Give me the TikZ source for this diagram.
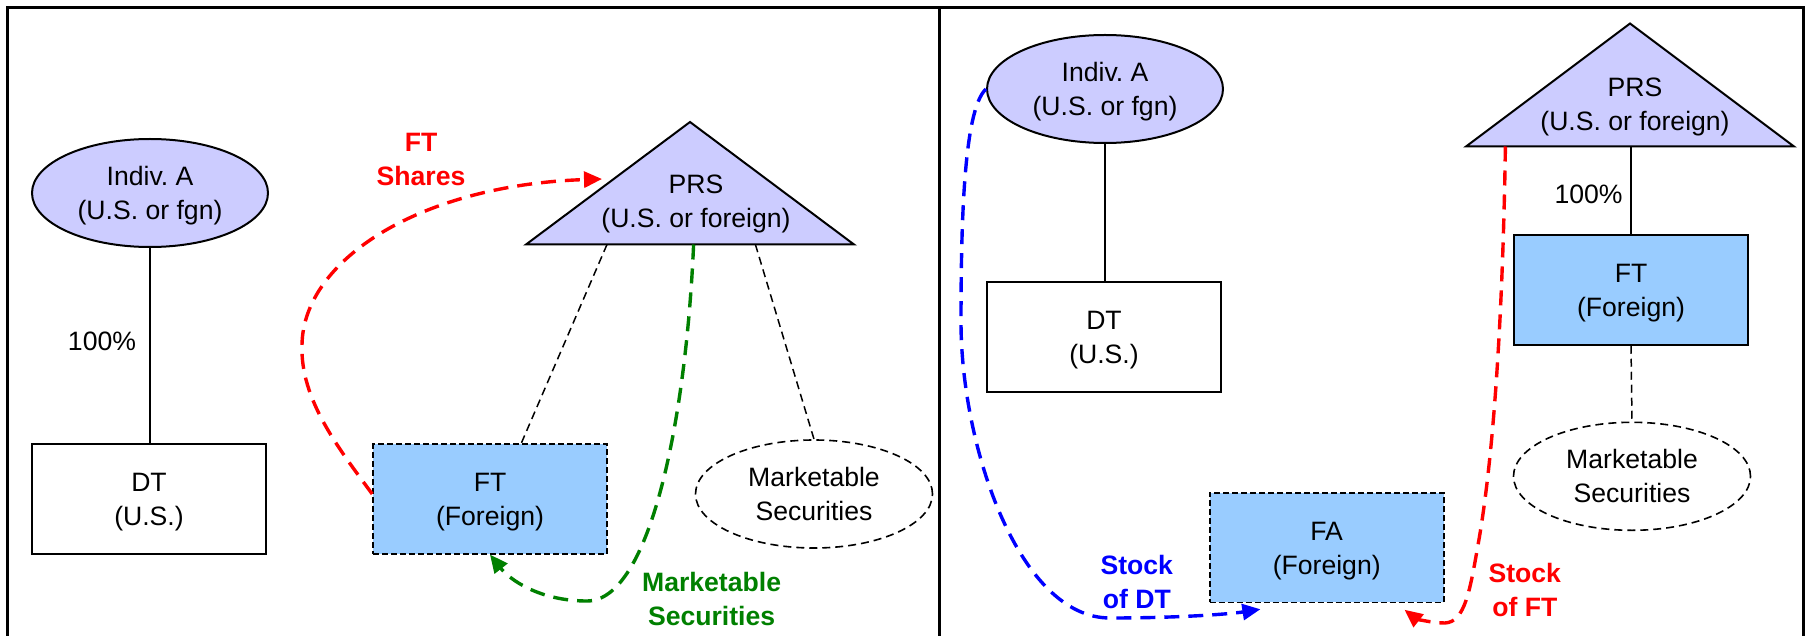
\documentclass[tikz,border=0pt]{standalone}
\usepackage{fontspec}
\setmainfont{Liberation Sans}
\usetikzlibrary{shapes.geometric,arrows.meta,calc}

\definecolor{lav}{HTML}{CCCCFF}
\definecolor{skyfill}{HTML}{99CCFF}
\definecolor{mgreen}{HTML}{008000}

% strut that keeps two-line labels centred on their capitals
\newcommand\capstrut{\rule[-3pt]{0pt}{15.5pt}}
\newcommand\pairtext[2]{\capstrut#1\\\capstrut#2}

\begin{document}
\frenchspacing
\begin{tikzpicture}[x=0.5pt,y=-0.5pt,
  every node/.style={font=\fontsize{13.3}{17}\selectfont, align=center, inner sep=0pt},
  party/.style={ellipse, draw, line width=1pt, fill=lav, minimum width=118pt, minimum height=54pt},
  pool/.style={ellipse, draw, line width=0.8pt, dash pattern=on 4pt off 2.5pt, minimum width=118.5pt, minimum height=54pt},
  trust/.style={rectangle, draw, line width=1pt, minimum width=117pt, minimum height=54.75pt},
  fgnbox/.style={trust, fill=skyfill},
  fgndash/.style={fgnbox, line width=0.8pt, dash pattern=on 3pt off 1.5pt},
  prsshape/.style={draw, line width=1pt, fill=lav, line join=miter},
  own/.style={draw, line width=0.8pt},
  link/.style={draw, line width=0.75pt, dash pattern=on 4pt off 2.5pt},
  flow/.style={draw=#1, line width=1.7pt, dash pattern=on 7.5pt off 4.5pt,
               -{Triangle[length=9pt,width=8pt]}},
  lbl/.style={font=\fontsize{13.3}{17}\selectfont\bfseries, text=#1}
]
\useasboundingbox (0,0) rectangle (1809,636);
\fill[white] (0,0) rectangle (1809,636);

% outer frame and divider
\draw[line width=1.5pt] (7.8,636) -- (7.8,7.2) -- (1803.8,7.2) -- (1803.8,636);
\draw[line width=1.5pt] (939.3,7.2) -- (939.3,636);

% ---------------- left panel ----------------
\node[party] (ellL) at (150,193) {\pairtext{Indiv.\ A}{(U.S.\ or fgn)}};
\node[trust] (dtL) at (149,499) {\pairtext{DT}{(U.S.)}};
\node[fgndash] (ftL) at (490,499) {\pairtext{FT}{(Foreign)}};
\node[pool] (mktL) at (814,494) {\pairtext{Marketable}{Securities}};

\coordinate (prsLa) at (690,122);
\coordinate (prsLl) at (526,244.5);
\coordinate (prsLr) at (854,244.5);
\path[prsshape] (prsLa) -- (prsLr) -- (prsLl) -- cycle;
\node (prsL) at (696,201.4) {\pairtext{PRS}{(U.S.\ or foreign)}};

\draw[own] (ellL.south) -- (ellL.south |- dtL.north);
\node (pctL) at (102,340.6) {\capstrut 100\%};

\draw[link] ($(prsLl)+(81,0)$) -- ($(ftL.north west)+(149,0)$);
\draw[link] ($(prsLl)+(229.4,0)$) -- (mktL.north);

\coordinate (shTip) at (602,179);
\draw[flow=red] ($(ftL.west)+(0,-5)$) .. controls (340,450) and (300,400) .. (302,345)
  .. controls (303,260) and (420,185) .. (shTip);
\node[lbl=red] (shLbl) at (421,159.2) {\pairtext{FT}{Shares}};

\draw[flow=mgreen] ($(prsLl)+(167.6,0)$) .. controls (686,420) and (650,601) .. (587,601)
  .. controls (540,601) and (510,580) .. (ftL.south);
\node[lbl=mgreen] (msLbl) at (711.6,598.8) {\pairtext{Marketable}{Securities}};

% ---------------- right panel ----------------
\node[party] (ellR) at (1105,89) {\pairtext{Indiv.\ A}{(U.S.\ or fgn)}};
\node[trust] (dtR) at (1104,337) {\pairtext{DT}{(U.S.)}};
\node[fgnbox] (ftR) at (1631,290) {\pairtext{FT}{(Foreign)}};
\node[pool] (mktR) at (1632,476.3) {\pairtext{Marketable}{Securities}};
\node[fgndash] (faR) at (1326.7,547.7) {\pairtext{FA}{(Foreign)}};

\coordinate (prsRa) at (1630,23.5);
\coordinate (prsRl) at (1466,146.5);
\coordinate (prsRr) at (1794,146.5);
\path[prsshape] (prsRa) -- (prsRr) -- (prsRl) -- cycle;
\node (prsR) at (1635,104.5) {\pairtext{PRS}{(U.S.\ or foreign)}};

\draw[own] (ellR.south) -- (ellR.south |- dtR.north);
\draw[own] (ftR.north |- prsRl) -- (ftR.north);
\node (pctR) at (1588.6,194) {\capstrut 100\%};
\draw[link] (ftR.south) -- (mktR.north);

\draw[flow=blue] (ellR.west) .. controls (963,110) and (961,230) .. (961,325)
  .. controls (962,450) and (1020,618) .. (1110,618)
  .. controls (1180,618) and (1230,614) .. ($(faR.south west)+(51.5,6)$);
\node[lbl=blue] (sdLbl) at (1136.8,581.7) {\pairtext{Stock}{of DT}};

\draw[flow=red] ($(prsRl)+(39.4,0)$) .. controls (1503,300) and (1495,450) .. (1478,545)
  .. controls (1470,590) and (1465,622) .. (1445,623)
  .. controls (1430,623) and (1415,618) .. ($(faR.south east)+(-40,6.5)$);
\node[lbl=red] (sfLbl) at (1524.8,589.7) {\pairtext{Stock}{of FT}};
\end{tikzpicture}
\end{document}
